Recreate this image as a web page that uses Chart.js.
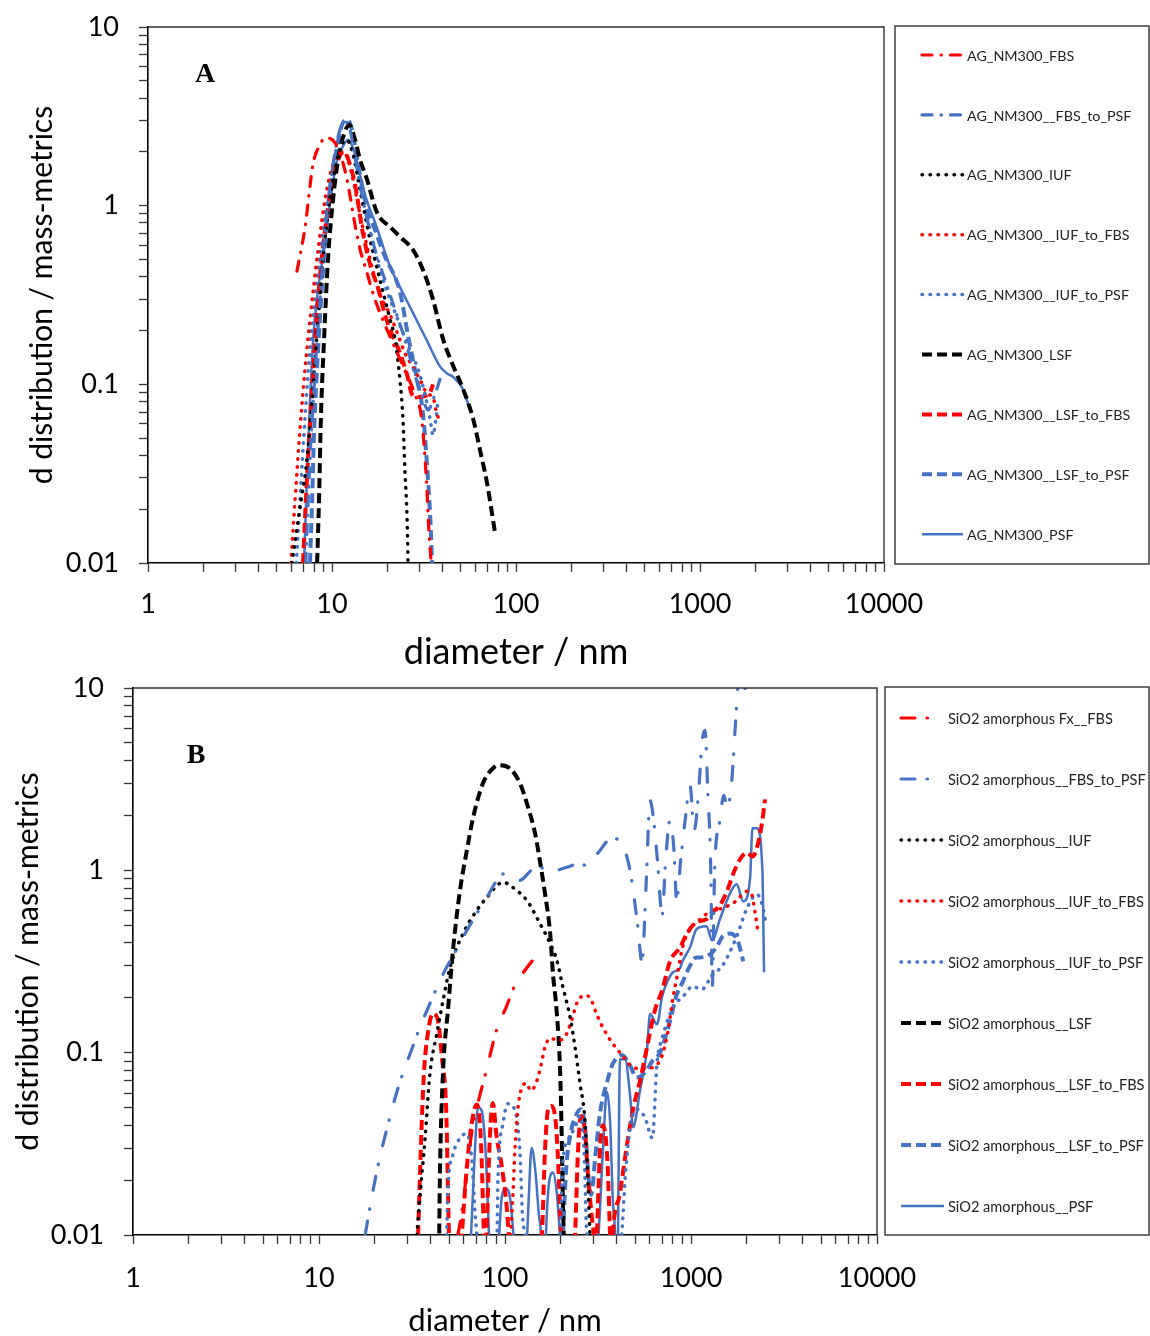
<!DOCTYPE html>
<html>
<head>
<meta charset="utf-8">
<script src="https://cdn.jsdelivr.net/npm/chart.js@4.4.0/dist/chart.umd.min.js"></script>
<style>
  body { margin: 0; background: #fff; }
  canvas { position: absolute; left: 0; }
  #chartA { top: 0; }
  #chartB { top: 670px; }
</style>
</head>
<body>
<canvas id="chartA" width="1150" height="670"></canvas>
<canvas id="chartB" width="1150" height="666"></canvas>
<script>
// ---- axis ticks ----
const xMajor = [1, 10, 100, 1000, 10000];
const yMajor = [0.01, 0.1, 1, 10];
const minorSteps = [1, 2, 3, 4, 5, 6, 7, 8, 9];

// ---- panel A : AG_NM300  [diameter nm, d distribution] ----
const agFbs = [[6.45,0.43],[7.13,0.75],[7.88,1.7],[8.61,2.19],[9.16,2.4],[10.38,2.25],[11.34,1.81],[12.22,1.31],[13.34,0.78],[14.2,0.57],[15.3,0.44],[17.1,0.3],[19.4,0.215],[22,0.16],[24.9,0.12],[28.2,0.088],[30.7,0.064],[32.6,0.029],[33.6,0.0154],[34.5,0.0104]];
const agFbsToPsf = [[7.2,0.01],[7.59,0.038],[8.1,0.12],[8.61,0.3],[9.3,0.83],[10.13,1.7],[11.05,2.66],[11.77,2.95],[12.53,2.66],[13.7,1.59],[15.1,0.95],[17.1,0.57],[19.4,0.385],[22,0.262],[24.9,0.178],[28.2,0.113],[30.7,0.088],[33.2,0.072],[36.3,0.088],[39,0.11]];
const agIuf = [[6.06,0.01],[6.8,0.0226],[7.2,0.033],[7.8,0.082],[8.4,0.23],[9.16,0.645],[10,1.31],[11.05,2.06],[11.9,2.34],[12.85,2.06],[14.2,1.23],[16.1,0.645],[18.2,0.385],[20.7,0.23],[22,0.178],[23.4,0.106],[24.3,0.064],[24.9,0.033],[25.6,0.0175],[25.9,0.01]];
const agIufToFbs = [[5.98,0.01],[6.3,0.0226],[6.7,0.056],[7.13,0.121],[7.59,0.23],[8.4,0.567],[9.16,1.08],[10.13,1.7],[11.05,2.0],[11.9,1.93],[12.85,1.49],[14.2,0.89],[16.1,0.5],[18.2,0.32],[20.7,0.245],[22.3,0.202],[24.9,0.15],[27.5,0.125],[30.1,0.106],[33.2,0.088],[35.4,0.085],[36.7,0.072],[38,0.064]];
const agIufToPsf = [[6.4,0.01],[6.7,0.0226],[7.13,0.064],[7.59,0.156],[8.4,0.438],[9.27,0.95],[10.25,1.59],[11.2,2.19],[12.1,2.34],[13,1.93],[14.2,1.31],[16.1,0.734],[18.2,0.438],[20.7,0.298],[23.4,0.215],[26.5,0.156],[29.4,0.121],[32,0.088],[34.1,0.064],[35.4,0.052],[36.7,0.064],[37.7,0.082]];
const agLsf = [[8.3,0.01],[8.5,0.0226],[8.7,0.064],[9.05,0.178],[9.51,0.5],[10.13,1.08],[10.9,1.93],[11.6,2.5],[12.4,2.84],[13.34,2.34],[14.2,1.81],[15.4,1.43],[17.6,0.91],[20.7,0.76],[23.4,0.67],[27.5,0.567],[31.2,0.438],[35.4,0.298],[40.2,0.178],[45.7,0.126],[51.8,0.093],[58.5,0.064],[63.7,0.043],[69.6,0.028],[76.9,0.0148]];
const agLsfToFbs = [[6.96,0.01],[7.13,0.0175],[7.41,0.038],[7.8,0.093],[8.4,0.298],[9.16,0.734],[10,1.31],[10.9,1.85],[11.6,2.0],[12.53,1.7],[13.5,1.23],[14.6,0.734],[16.1,0.47],[17.9,0.339],[19.4,0.245],[21.2,0.19],[23.4,0.15],[25.6,0.113],[27.2,0.088],[29.4,0.085],[32,0.086],[34.1,0.09],[35.4,0.1]];
const agLsfToPsf = [[7.59,0.01],[7.8,0.0226],[8.0,0.056],[8.4,0.156],[8.94,0.438],[9.6,1.08],[10.58,2.06],[11.34,2.84],[12.1,3.03],[12.85,2.66],[13.85,1.7],[15.1,1.08],[17.1,0.734],[19.4,0.52],[23.4,0.33],[25.6,0.2],[27.5,0.137],[29,0.106],[31.2,0.069],[32.8,0.036],[34.1,0.019],[35,0.01]];
const agPsf = [[7.05,0.01],[7.3,0.029],[7.6,0.082],[7.9,0.178],[8.4,0.34],[8.8,0.47],[9.4,0.78],[10,1.23],[10.6,1.76],[11.34,2.1],[12.22,2.34],[13.1,2.06],[14.2,1.49],[15.4,1.08],[17.1,0.81],[18.2,0.67],[20.7,0.455],[23.4,0.35],[27.5,0.252],[32.6,0.178],[38.6,0.126],[42.2,0.115],[45.5,0.11],[51.8,0.093],[56.2,0.072]];

// ---- panel B : SiO2 amorphous ----
const siFbs = [[55.8,0.01],[58.5,0.0132],[62.5,0.0226],[66.5,0.0375],[70.5,0.05],[75,0.064],[81,0.087],[90,0.1325],[102,0.18],[113,0.234],[128,0.283],[145,0.333]];
const siFbsToPsf = [[17.7,0.01],[18.8,0.0142],[20.5,0.0226],[23.2,0.0385],[26.6,0.064],[31.6,0.105],[34.9,0.138],[38.5,0.175],[42.9,0.226],[47.6,0.283],[53.8,0.355],[61,0.45],[70.6,0.58],[80,0.711],[90.5,0.88],[100,0.963],[108.7,0.94],[120,0.88],[139,1.0],[160,1.03],[170,0.975],[215,1.04],[253,1.09],[275,1.06],[315,1.24],[376,1.5],[415,1.44],[450,1.21],[480,0.88],[520,0.47],[545,0.31],[575,0.88],[602,2.42],[630,1.88],[660,1.13],[700,0.566],[730,1.13],[771,1.88],[810,1.29],[837,0.684],[880,1.13],[930,1.88],[988,2.93],[1040,1.66],[1090,2.42],[1150,5.17],[1190,5.85],[1230,2.75],[1280,0.88],[1300,0.22],[1340,1.0],[1430,1.88],[1500,2.58],[1560,2.27],[1640,2.75],[1725,5.85],[1780,9.7],[1830,12.5],[1910,9.5],[2010,11],[2160,12.5],[2500,10.2]];
const siIuf = [[33.6,0.01],[35,0.0169],[37.1,0.033],[39.5,0.077],[43,0.127],[46.5,0.194],[50.6,0.293],[59.5,0.45],[70.5,0.603],[80,0.711],[97.5,0.86],[110,0.807],[131,0.684],[154,0.512],[175,0.397],[190,0.321],[205,0.228],[224,0.156],[238,0.107],[253,0.068],[269,0.0425],[278,0.0218],[286,0.0102]];
const siIufToFbs = [[107,0.01],[110,0.0155],[113,0.029],[117,0.048],[123,0.064],[131,0.068],[137,0.062],[145,0.066],[154,0.08],[164,0.107],[175,0.12],[192,0.117],[210,0.122],[228,0.15],[245,0.19],[269,0.206],[287,0.2],[310,0.164],[335,0.138],[380,0.112],[425,0.097],[465,0.0865],[510,0.082],[566,0.082],[640,0.084],[700,0.097],[750,0.129],[800,0.2],[850,0.276],[900,0.378],[988,0.475],[1118,0.539],[1300,0.603],[1480,0.62],[1740,0.676],[2000,0.767],[2120,0.738],[2210,0.588],[2300,0.45]];
const siIufToPsf = [[48.6,0.01],[49.2,0.0169],[52.7,0.028],[57.3,0.034],[62.4,0.036],[66.4,0.0257],[69,0.0132],[70.6,0.01],[80,0.003],[90.6,0.01],[91.6,0.02],[97.6,0.041],[103.8,0.0525],[113,0.0483],[120.4,0.028],[124,0.0131],[128,0.01],[150,0.003],[197.6,0.01],[205,0.0257],[218,0.033],[238,0.039],[253,0.045],[266,0.029],[275,0.01],[330,0.003],[424,0.01],[442,0.02],[470,0.0385],[510,0.049],[566,0.044],[620,0.034],[656,0.0874],[700,0.12],[800,0.177],[910,0.204],[1020,0.231],[1140,0.222],[1300,0.266],[1480,0.301],[1760,0.434],[2000,0.619],[2260,0.738],[2420,0.643],[2520,0.52]];
const siLsf = [[44.3,0.0102],[44.7,0.0219],[46.4,0.077],[49.5,0.177],[52.7,0.378],[57.3,0.777],[62.4,1.29],[67.4,1.95],[76.1,3.0],[86,3.62],[94,3.77],[106.4,3.62],[120.4,3.0],[133,2.22],[145,1.6],[154,1.13],[164,0.748],[175,0.45],[181,0.272],[190,0.164],[198,0.077],[202,0.033],[205,0.0142],[207,0.01]];
const siLsfToFbs = [[34.1,0.01],[35.4,0.033],[36.6,0.075],[38.5,0.128],[41,0.164],[43.6,0.15],[45.8,0.094],[48.3,0.048],[50,0.01],[54,0.003],[58.6,0.01],[62,0.022],[66,0.04],[70.5,0.052],[74,0.035],[77,0.01],[78,0.006],[80,0.012],[83,0.035],[86,0.053],[90,0.035],[96,0.024],[102,0.0145],[105,0.01],[130,0.003],[158,0.01],[164,0.029],[170,0.048],[178,0.051],[188,0.04],[195,0.02],[200,0.01],[220,0.003],[238,0.01],[247,0.029],[256,0.045],[269,0.037],[278,0.0226],[293,0.0125],[300,0.01],[306,0.006],[312,0.01],[324,0.029],[336,0.04],[355,0.026],[367,0.01],[373,0.006],[380,0.01],[415,0.0169],[450,0.03],[490,0.05],[532,0.07],[580,0.107],[640,0.171],[700,0.22],[771,0.317],[873,0.378],[950,0.45],[1070,0.52],[1210,0.539],[1300,0.588],[1430,0.643],[1560,0.767],[1690,0.963],[1835,1.15],[2000,1.25],[2140,1.19],[2300,1.42],[2420,1.88],[2500,2.45]];
const siLsfToPsf = [[205,0.01],[213,0.0226],[224,0.035],[240,0.045],[256,0.049],[269,0.04],[282,0.02],[290,0.0166],[308,0.029],[324,0.0465],[355,0.07],[380,0.087],[425,0.097],[470,0.085],[510,0.073],[566,0.078],[620,0.09],[681,0.1],[771,0.149],[833,0.204],[900,0.243],[988,0.3],[1070,0.333],[1120,0.333],[1265,0.346],[1370,0.378],[1480,0.434],[1620,0.45],[1780,0.413],[1910,0.317]];
const siPsf = [[65.7,0.01],[69,0.03],[71.6,0.05],[75,0.048],[78,0.033],[80,0.02],[82,0.01],[87,0.003],[93,0.01],[96,0.016],[101.5,0.018],[106.4,0.016],[111,0.01],[120,0.003],[131.5,0.01],[134,0.0155],[139,0.03],[145,0.0235],[152,0.013],[156,0.01],[161,0.003],[166,0.01],[172,0.0188],[181,0.022],[190,0.0169],[198,0.01],[250,0.003],[318,0.01],[336,0.029],[353,0.061],[367,0.0425],[380,0.0155],[390,0.01],[398,0.003],[405,0.01],[415,0.092],[442,0.092],[470,0.059],[488,0.039],[532,0.062],[580,0.104],[602,0.163],[656,0.143],[700,0.204],[743,0.243],[800,0.276],[873,0.29],[900,0.317],[988,0.378],[1070,0.475],[1210,0.493],[1300,0.413],[1430,0.539],[1640,0.767],[1760,0.838],[1910,0.676],[2080,0.915],[2140,1.7],[2260,1.7],[2420,1.0],[2470,0.276]];

const RED = "#FF0000", BLUE = "#4472C4", BLACK = "#000000";
const FONT = "Lato";

// tick positions 1..9 per decade
const logTicks = (majors) => {
  const out = [];
  majors.slice(0, -1).forEach((m) => minorSteps.forEach((k) => out.push(m * k)));
  out.push(majors[majors.length - 1]);
  return out;
};

const lineStyle = (kind, color, panel) => {
  if (kind === "dashdot") {
    return { borderColor: color, borderWidth: 3.2, borderCapStyle: "round",
      borderDash: panel === "A" ? [10, 9, 0.5, 9] : [14, 12, 0.5, 19] };
  }
  if (kind === "dot") return { borderColor: color, borderWidth: 3.5, borderDash: [0.5, 7.5], borderCapStyle: "round" };
  if (kind === "dash") return { borderColor: color, borderWidth: 4, borderDash: [10, 5], borderCapStyle: "butt" };
  return { borderColor: color, borderWidth: 2.5, borderDash: [], borderCapStyle: "butt" };
};

const makeSet = (label, pairs, kind, color, panel) => ({
  label,
  data: pairs.map(([x, y]) => ({ x, y })),
  pointRadius: 0,
  fill: false,
  cubicInterpolationMode: "monotone",
  ...lineStyle(kind, color, panel),
});

// frame, boxed legend and panel letter
const frameLegend = {
  id: "frameLegend",
  afterDraw(chart, args, o) {
    const ctx = chart.ctx;
    const a = chart.chartArea;
    ctx.save();
    ctx.setLineDash([]);
    ctx.strokeStyle = "#333";
    ctx.lineWidth = 1.4;
    ctx.beginPath();
    ctx.moveTo(a.left, a.top);
    ctx.lineTo(a.right, a.top);
    ctx.lineTo(a.right, a.bottom);
    ctx.stroke();
    ctx.strokeRect(o.box[0], o.box[1], o.box[2], o.box[3]);

    chart.data.datasets.forEach((ds, i) => {
      const y = o.firstY + i * o.stepY;
      ctx.beginPath();
      ctx.setLineDash(ds.borderDash || []);
      ctx.lineCap = ds.borderCapStyle;
      ctx.lineWidth = ds.borderWidth;
      ctx.strokeStyle = ds.borderColor;
      ctx.moveTo(o.sample[0], y);
      ctx.lineTo(o.sample[1], y);
      ctx.stroke();
      ctx.setLineDash([]);
      ctx.fillStyle = "#222";
      ctx.font = o.font;
      ctx.textBaseline = "middle";
      ctx.fillText(ds.label, o.textX, y + 1);
    });

    ctx.fillStyle = "#000";
    ctx.font = "bold 28px 'Liberation Serif'";
    ctx.textAlign = "center";
    ctx.textBaseline = "middle";
    ctx.fillText(o.letter, o.letterPos[0], o.letterPos[1]);
    ctx.restore();
  },
};

const buildOptions = (g) => ({
  responsive: false,
  animation: false,
  layout: { padding: { left: 0, top: g.top, right: g.right, bottom: 0 } },
  plugins: { legend: { display: false }, tooltip: { enabled: false }, frameLegend: g.legend },
  scales: {
    x: {
      type: "logarithmic",
      min: 1,
      max: 10000,
      afterBuildTicks: (s) => { s.ticks = logTicks(xMajor).map((v) => ({ value: v })); },
      afterFit: (s) => { s.height = g.xHeight; s.paddingLeft = 0; s.paddingRight = 0; },
      grid: { drawOnChartArea: false, tickLength: 9, color: "#333", tickWidth: 1.3 },
      border: { color: "#000", width: 1.6 },
      ticks: {
        autoSkip: false, maxRotation: 0, padding: g.xPad, color: "#000",
        font: { family: FONT, size: 27 },
        callback: (v) => (xMajor.includes(v) ? String(v) : ""),
      },
      title: {
        display: true, text: "diameter / nm", color: "#000", padding: 0,
        font: { family: FONT, size: g.xTitleSize, lineHeight: 1 },
      },
    },
    y: {
      type: "logarithmic",
      min: 0.01,
      max: 10,
      afterBuildTicks: (s) => { s.ticks = logTicks(yMajor).map((v) => ({ value: v })); },
      afterFit: (s) => { s.width = g.yWidth; s.paddingTop = 0; s.paddingBottom = 0; },
      grid: { drawOnChartArea: false, tickLength: 9, color: "#333", tickWidth: 1.3 },
      border: { color: "#000", width: 1.6 },
      ticks: {
        autoSkip: false, padding: 20, color: "#000",
        font: { family: FONT, size: 27 },
        callback: (v) => (yMajor.includes(v) ? String(v) : ""),
      },
      title: {
        display: true, text: "d distribution / mass-metrics", color: "#000",
        padding: { top: g.yTitlePad, bottom: 0 },
        font: { family: FONT, size: 30, lineHeight: 1 },
      },
    },
  },
});

const chartA = new Chart(document.getElementById("chartA"), {
  type: "line",
  data: {
    datasets: [
      makeSet("AG_NM300_FBS", agFbs, "dashdot", RED, "A"),
      makeSet("AG_NM300__FBS_to_PSF", agFbsToPsf, "dashdot", BLUE, "A"),
      makeSet("AG_NM300_IUF", agIuf, "dot", BLACK, "A"),
      makeSet("AG_NM300__IUF_to_FBS", agIufToFbs, "dot", RED, "A"),
      makeSet("AG_NM300__IUF_to_PSF", agIufToPsf, "dot", BLUE, "A"),
      makeSet("AG_NM300_LSF", agLsf, "dash", BLACK, "A"),
      makeSet("AG_NM300__LSF_to_FBS", agLsfToFbs, "dash", RED, "A"),
      makeSet("AG_NM300__LSF_to_PSF", agLsfToPsf, "dash", BLUE, "A"),
      makeSet("AG_NM300_PSF", agPsf, "solid", BLUE, "A"),
    ],
  },
  options: buildOptions({
    top: 27, right: 266, xHeight: 107, yWidth: 148, xPad: 16, xTitleSize: 36, yTitlePad: 27,
    legend: {
      box: [895, 26, 254, 538], firstY: 55, stepY: 59.9, sample: [922, 963], textX: 967,
      font: "14.3px Lato", letter: "A", letterPos: [205, 75],
    },
  }),
  plugins: [frameLegend],
});

const chartB = new Chart(document.getElementById("chartB"), {
  type: "line",
  data: {
    datasets: [
      makeSet("SiO2 amorphous Fx__FBS", siFbs, "dashdot", RED, "B"),
      makeSet("SiO2 amorphous__FBS_to_PSF", siFbsToPsf, "dashdot", BLUE, "B"),
      makeSet("SiO2 amorphous__IUF", siIuf, "dot", BLACK, "B"),
      makeSet("SiO2 amorphous__IUF_to_FBS", siIufToFbs, "dot", RED, "B"),
      makeSet("SiO2 amorphous__IUF_to_PSF", siIufToPsf, "dot", BLUE, "B"),
      makeSet("SiO2 amorphous__LSF", siLsf, "dash", BLACK, "B"),
      makeSet("SiO2 amorphous__LSF_to_FBS", siLsfToFbs, "dash", RED, "B"),
      makeSet("SiO2 amorphous__LSF_to_PSF", siLsfToPsf, "dash", BLUE, "B"),
      makeSet("SiO2 amorphous__PSF", siPsf, "solid", BLUE, "B"),
    ],
  },
  options: buildOptions({
    top: 18, right: 273, xHeight: 101, yWidth: 133, xPad: 18, xTitleSize: 31, yTitlePad: 13,
    legend: {
      box: [885, 17, 264, 548], firstY: 48, stepY: 61, sample: [901, 944], textX: 948,
      font: "14.6px Lato", letter: "B", letterPos: [196, 86],
    },
  }),
  plugins: [frameLegend],
});
</script>
</body>
</html>
